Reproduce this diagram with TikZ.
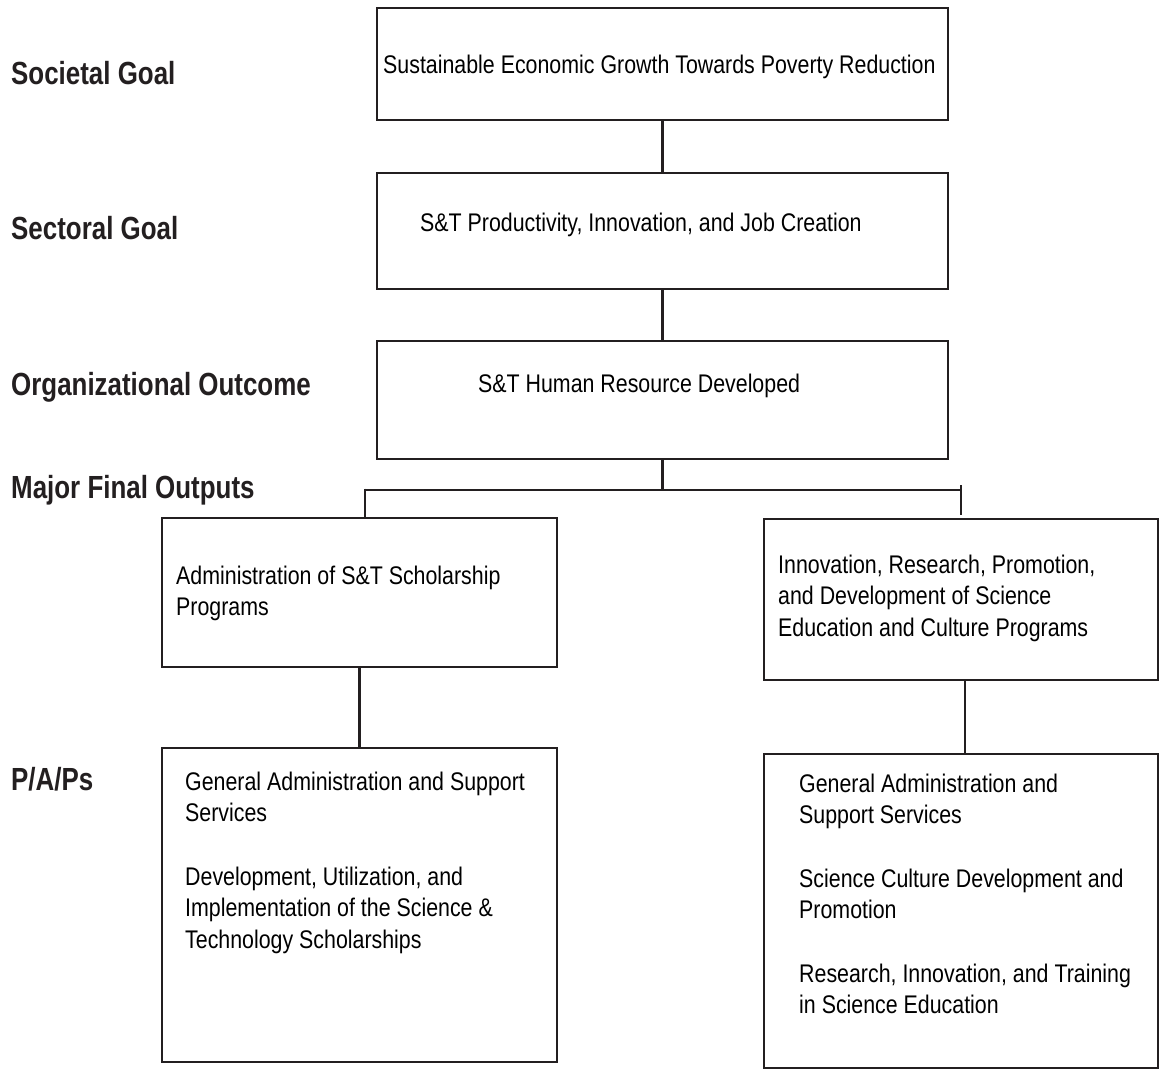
\documentclass[tikz,border=0pt]{standalone}
\usepackage{fontspec}
\setmainfont{Liberation Sans}[FakeStretch=0.838, BoldFeatures={FakeStretch=0.81}]
\definecolor{linec}{HTML}{231F20}
\begin{document}
\begin{tikzpicture}[x=1pt,y=1pt,
  box/.style={draw=linec, line width=2.6pt, inner sep=0pt, fill=white},
  txt/.style={anchor=base west, align=left, inner sep=0pt, font=\fontsize{25.5}{31.5}\selectfont, text=black},
  lab/.style={anchor=base west, inner sep=0pt, font=\fontsize{32}{38}\selectfont\bfseries, text=linec},
  conn/.style={draw=linec, line width=2.6pt}]
\useasboundingbox[fill=white] (0,0) rectangle (1160,-1070);

% boxes
\node[box, minimum width=571pt, minimum height=112pt] (b1) at (662.5,-64) {};
\node[box, minimum width=571pt, minimum height=116pt] (b2) at (662.5,-231) {};
\node[box, minimum width=571pt, minimum height=118pt] (b3) at (662.5,-400) {};
\node[box, minimum width=395pt, minimum height=149pt] (l1) at (359.5,-592.5) {};
\node[box, minimum width=394pt, minimum height=161pt] (r1) at (961,-599.5) {};
\node[box, minimum width=395pt, minimum height=314pt] (l2) at (359.5,-905) {};
\node[box, minimum width=394pt, minimum height=314pt] (r2) at (961,-911) {};

% box texts (multi-line nodes: base = baseline of last line)
\node[txt] (t1) at (383,-74) {Sustainable Economic Growth Towards Poverty Reduction};
\node[txt] (t2) at (420,-231) {S\&T Productivity, Innovation, and Job Creation};
\node[txt] (t3) at (478,-392) {S\&T Human Resource Developed};
\node[txt] (tl1) at (176,-615.5) {Administration of S\&T Scholarship\\Programs};
\node[txt] (tr1) at (778,-636) {Innovation, Research, Promotion,\\and Development of Science\\Education and Culture Programs};
\node[txt] (tl2) at (185,-948) {General Administration and Support\\Services\\[32pt]Development, Utilization, and\\Implementation of the Science \&\\Technology Scholarships};
\node[txt] (tr2) at (799,-1013.5) {General Administration and\\Support Services\\[32pt]Science Culture Development and\\Promotion\\[32pt]Research, Innovation, and Training\\in Science Education};

% level labels
\node[lab] (s1) at (11,-85) {Societal Goal};
\node[lab] (s2) at (11,-240) {Sectoral Goal};
\node[lab] (s3) at (11,-395) {Organizational Outcome};
\node[lab] (s4) at (11,-498) {Major Final Outputs};
\node[lab] (s5) at (11,-790) {P/A/Ps};

% connectors
\coordinate (busL) at (365,-490);
\coordinate (busR) at (961,-490);
\coordinate (tickT) at (961,-485);
\coordinate (tickB) at (961,-515);
\draw[conn] (b1.south) -- (b2.north);
\draw[conn] (b2.south) -- (b3.north);
\draw[conn] (b3.south) -- (b3.south |- busL);
\draw[conn] (busL) -- (busR);
\draw[conn] ([yshift=1.3pt]busL) -- (busL |- l1.north);
\draw[conn] (tickT) -- (tickB);
\draw[conn] (l1.south) -- (l2.north);
\draw[conn] ([xshift=4pt]r1.south) -- ([xshift=4pt]r1.south |- r2.north);
\end{tikzpicture}
\end{document}
